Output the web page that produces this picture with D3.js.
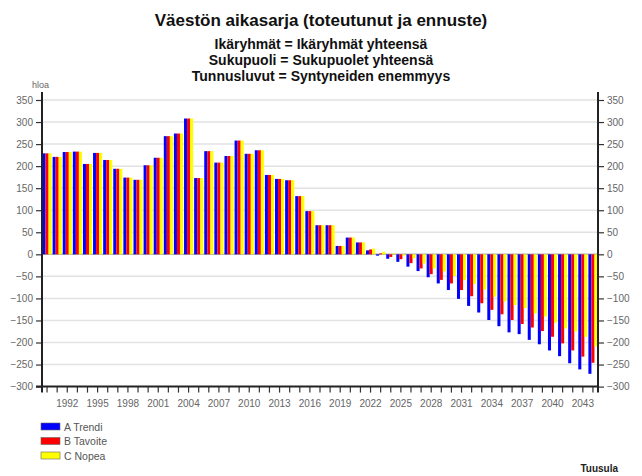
<!DOCTYPE html>
<meta charset="utf-8">
<head>
  <title>Väestön aikasarja</title>
  <style>
    body { margin: 0; background: #fff; }
    text { font-family: "Liberation Sans", Arial, sans-serif; }
  </style>
</head>
<body>
<div id="chart"></div>
<script src="https://d3js.org/d3.v7.min.js"></script>
<script>

// years on the x axis, one group of three bars per year
var years = d3.range(1990, 2045);
var yearLabels = [1992, 1995, 1998, 2001, 2004, 2007, 2010, 2013, 2016, 2019, 2022, 2025, 2028, 2031, 2034, 2037, 2040, 2043];
var yTicks = [-300, -250, -200, -150, -100, -50, 0, 50, 100, 150, 200, 250, 300, 350];

var seriesNames = ["A Trendi", "B Tavoite", "C Nopea"];
var seriesColors = ["#0000ff", "#ff0000", "#ffff00"];

// toteutunut 1990-2021 (same for all three)
var toteutunut = [229, 221, 232, 233, 205, 230, 214, 194, 174, 169, 202, 219, 268, 274, 308,
               173, 234, 208, 223, 258, 228, 236, 180, 171, 168, 132, 98, 66, 66, 19, 38, 27];
// ennusteet 2022-2044
var trendi = [9, -3, -10, -17, -28, -38, -52, -66, -81, -101, -117, -132, -149, -163, -177, -181,
              -194, -204, -218, -231, -247, -261, -271];
var tavoite = [11, 2, -6, -11, -20, -32, -45, -58, -66, -81, -95, -111, -126, -136, -149, -158,
               -166, -174, -187, -202, -218, -232, -246];
var nopea = [13, 6, 2, -3, -9, -21, -32, -39, -49, -58, -67, -80, -96, -107, -115, -122,
             -134, -141, -155, -168, -175, -187, -209];

var seriesValues = [toteutunut.concat(trendi), toteutunut.concat(tavoite), toteutunut.concat(nopea)];

var W = 642, H = 476;
var pLeft = 42, pRight = 598, pTop = 100, pBottom = 386.6;

var svg = d3.select("#chart").append("svg")
    .attr("width", W)
    .attr("height", H);

// titles
svg.append("text").attr("x", 321).attr("y", 26).attr("text-anchor", "middle")
    .style("font-size", "17px").style("font-weight", "bold").attr("fill", "#111")
    .text("Väestön aikasarja (toteutunut ja ennuste)");
var subs = ["Ikäryhmät = Ikäryhmät yhteensä", "Sukupuoli = Sukupuolet yhteensä", "Tunnusluvut = Syntyneiden enemmyys"];
svg.selectAll(".sub").data(subs).enter().append("text")
    .attr("x", 321).attr("y", function(d, i) { return 49 + i * 16; })
    .attr("text-anchor", "middle")
    .style("font-size", "14px").style("font-weight", "bold").attr("fill", "#111")
    .text(function(d) { return d; });

var x = d3.scaleBand()
    .domain(years)
    .range([pLeft, pRight])
    .paddingInner(0.1)
    .paddingOuter(0.05);

var xs = d3.scaleBand()
    .domain(d3.range(seriesNames.length))
    .range([0, x.bandwidth()]);

var y = d3.scaleLinear()
    .domain([-300, 350])
    .range([pBottom, pTop]);

// gridlines
svg.append("g").selectAll("line")
    .data(yTicks.filter(function(d) { return d > -300; }))
    .enter().append("line")
    .attr("x1", pLeft).attr("x2", pRight)
    .attr("y1", function(d) { return y(d); })
    .attr("y2", function(d) { return y(d); })
    .attr("stroke", function(d) { return d === 0 ? "#b0b0b0" : "#e2e2e2"; })
    .attr("stroke-width", 1.5);

// bars
var groups = svg.append("g").selectAll("g")
    .data(seriesValues)
    .enter().append("g")
    .attr("fill", function(d, i) { return seriesColors[i]; });

groups.each(function(vals, s) {
  d3.select(this).selectAll("rect")
    .data(vals)
    .enter().append("rect")
    .attr("x", function(d, i) { return x(years[i]) + xs(s); })
    .attr("width", xs.bandwidth())
    .attr("y", function(d) { return y(Math.max(0, d)); })
    .attr("height", function(d) { return Math.abs(y(d) - y(0)); });
});

// axes
var axisL = svg.append("g")
    .attr("transform", "translate(" + pLeft + ",0)")
    .call(d3.axisLeft(y).tickValues(yTicks).tickSize(6).tickPadding(3));
var axisR = svg.append("g")
    .attr("transform", "translate(" + pRight + ",0)")
    .call(d3.axisRight(y).tickValues(yTicks).tickSize(6).tickPadding(3));
var axisB = svg.append("g")
    .attr("transform", "translate(0," + pBottom + ")")
    .call(d3.axisBottom(x).tickSize(6).tickPadding(7)
      .tickFormat(function(d) { return yearLabels.indexOf(d) >= 0 ? d : ""; }));

[axisL, axisR, axisB].forEach(function(a) {
  a.select(".domain").remove();
  a.selectAll(".tick line").attr("stroke", "#333").attr("stroke-width", 1.2);
  a.selectAll(".tick text").attr("fill", "#666").style("font-size", "10px")
    .style("font-family", "Liberation Sans, Arial, sans-serif");
});

// axis frame lines
svg.append("line").attr("x1", pLeft).attr("x2", pLeft).attr("y1", 92).attr("y2", pBottom + 6)
    .attr("stroke", "#222").attr("stroke-width", 2);
svg.append("line").attr("x1", pRight).attr("x2", pRight).attr("y1", 92).attr("y2", pBottom + 6)
    .attr("stroke", "#222").attr("stroke-width", 2);
svg.append("line").attr("x1", pLeft - 6).attr("x2", pRight).attr("y1", pBottom).attr("y2", pBottom)
    .attr("stroke", "#222").attr("stroke-width", 2);

svg.append("text").attr("x", 32).attr("y", 88)
    .style("font-size", "9px").attr("fill", "#666").text("hloa");

// legend
var legend = svg.append("g").selectAll("g")
    .data(seriesNames)
    .enter().append("g")
    .attr("transform", function(d, i) { return "translate(41," + (423 + i * 14.5) + ")"; });
legend.append("rect")
    .attr("width", 19).attr("height", 7)
    .attr("fill", function(d, i) { return seriesColors[i]; })
    .attr("stroke", "#666").attr("stroke-width", 0.6);
legend.append("text")
    .attr("x", 23).attr("y", 7.5)
    .style("font-size", "10.5px").attr("fill", "#555")
    .text(function(d) { return d; });

svg.append("text").attr("x", 618).attr("y", 472).attr("text-anchor", "end")
    .style("font-size", "10px").style("font-weight", "bold").attr("fill", "#222")
    .text("Tuusula");

</script>
</body>
</html>
